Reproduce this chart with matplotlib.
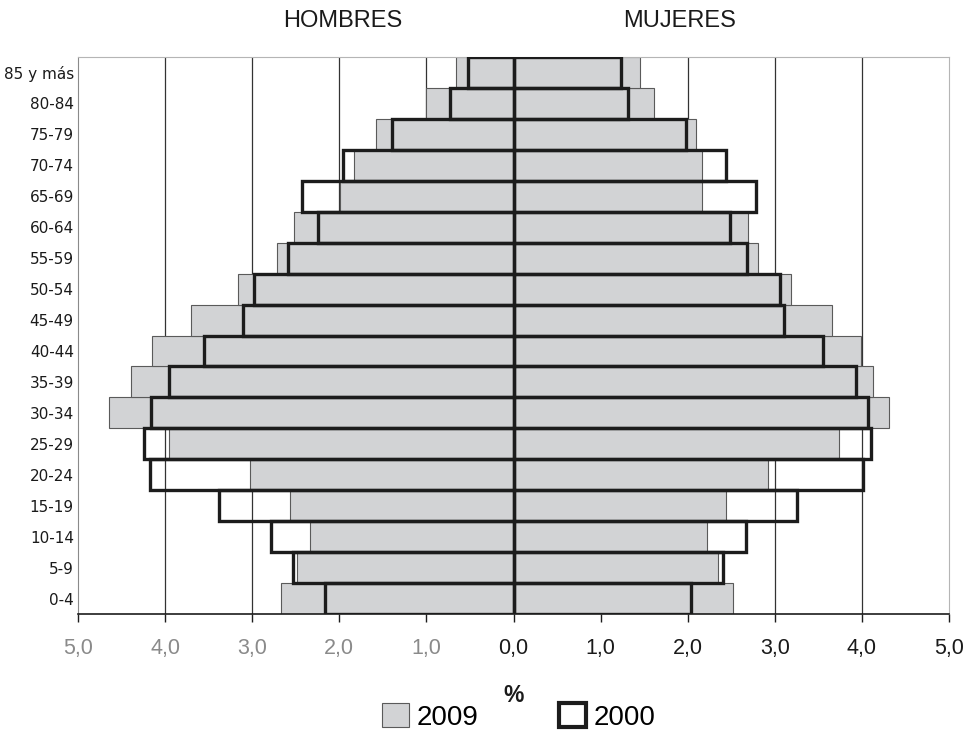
import matplotlib
matplotlib.use("Agg")
import matplotlib.pyplot as plt
from matplotlib.patches import Patch
import numpy as np

# age groups from youngest to oldest
ages = ["0-4", "5-9", "10-14", "15-19", "20-24", "25-29", "30-34", "35-39", "40-44",
        "45-49", "50-54", "55-59", "60-64", "65-69", "70-74", "75-79", "80-84", "85 y más"]

hombres_2009 = [2.67, 2.48, 2.34, 2.57, 3.03, 3.95, 4.64, 4.39, 4.15,
                3.70, 3.16, 2.72, 2.52, 1.99, 1.83, 1.58, 1.00, 0.66]
hombres_2000 = [2.16, 2.53, 2.78, 3.38, 4.17, 4.24, 4.16, 3.95, 3.55,
                3.10, 2.98, 2.59, 2.25, 2.43, 1.96, 1.40, 0.73, 0.52]
mujeres_2009 = [2.52, 2.35, 2.22, 2.44, 2.92, 3.74, 4.31, 4.13, 3.99,
                3.66, 3.19, 2.81, 2.69, 2.16, 2.16, 2.09, 1.61, 1.45]
mujeres_2000 = [2.04, 2.40, 2.67, 3.26, 4.01, 4.10, 4.07, 3.93, 3.55,
                3.10, 3.06, 2.68, 2.48, 2.78, 2.44, 1.98, 1.32, 1.23]

ticks = [-5, -4, -3, -2, -1, 0, 1, 2, 3, 4, 5]

GRAY_FILL = "#d2d3d5"
GRAY_EDGE = "#5a5a5a"
DARK = "#1c1c1c"

plt.rcParams["font.family"] = ["Liberation Sans", "DejaVu Sans"]

fig = plt.figure(figsize=(9.73, 7.31), dpi=100)
ax = fig.add_axes([78 / 973, 1 - 614 / 731, (949 - 78) / 973, (614 - 57) / 731])

y = np.arange(len(ages))
h09 = np.array(hombres_2009)
h00 = np.array(hombres_2000)
m09 = np.array(mujeres_2009)
m00 = np.array(mujeres_2000)

for t in ticks[1:-1]:
    ax.axvline(t, color="#333333", lw=0.9, zorder=0)

ax.barh(y, -h09, height=1.0, color=GRAY_FILL, edgecolor=GRAY_EDGE, linewidth=0.8, zorder=2)
ax.barh(y, m09, height=1.0, color=GRAY_FILL, edgecolor=GRAY_EDGE, linewidth=0.8, zorder=2)
ax.barh(y, -h00, height=1.0, fill=False, edgecolor=DARK, linewidth=2.4, zorder=3)
ax.barh(y, m00, height=1.0, fill=False, edgecolor=DARK, linewidth=2.4, zorder=3)

ax.set_xlim(-5, 5)
ax.set_ylim(-0.5, len(ages) - 0.5)

ax.set_xticks(ticks)
ax.set_xticklabels([f"{abs(t):.1f}".replace(".", ",") for t in ticks], fontsize=15.5)
for t, lab in zip(ticks, ax.get_xticklabels()):
    lab.set_color("#8a8a8a" if t < 0 else "#1a1a1a")
ax.tick_params(axis="x", direction="out", length=6, width=1, color=DARK, pad=11)

ax.set_yticks(y)
ax.set_yticklabels(ages, fontsize=11, family="DejaVu Sans", color="#1a1a1a")
ax.tick_params(axis="y", length=0, pad=3)

ax.spines["bottom"].set_color(DARK)
ax.spines["bottom"].set_linewidth(1.2)
ax.spines["left"].set_color("#8a8a8a")
ax.spines["top"].set_color("#b5b5b5")
ax.spines["right"].set_color("#b5b5b5")

fig.text(343 / 973, 1 - 21 / 731, "HOMBRES", ha="center", va="center", fontsize=17, color="#1a1a1a")
fig.text(680 / 973, 1 - 21 / 731, "MUJERES", ha="center", va="center", fontsize=17, color="#1a1a1a")
fig.text(514 / 973, 1 - 696 / 731, "%", ha="center", va="center", fontsize=16.5,
         fontweight="bold", color="#1a1a1a")

handles = [Patch(facecolor=GRAY_FILL, edgecolor=GRAY_EDGE, linewidth=0.8, label="2009"),
           Patch(facecolor="white", edgecolor=DARK, linewidth=3, label="2000")]
fig.legend(handles=handles, loc="center", bbox_to_anchor=(519 / 973, 1 - 717 / 731),
           ncol=2, frameon=False, fontsize=20, handlelength=0.95, handleheight=0.95,
           handletextpad=0.3, columnspacing=2.9, borderpad=0)

fig.savefig("out.png", dpi=100)
